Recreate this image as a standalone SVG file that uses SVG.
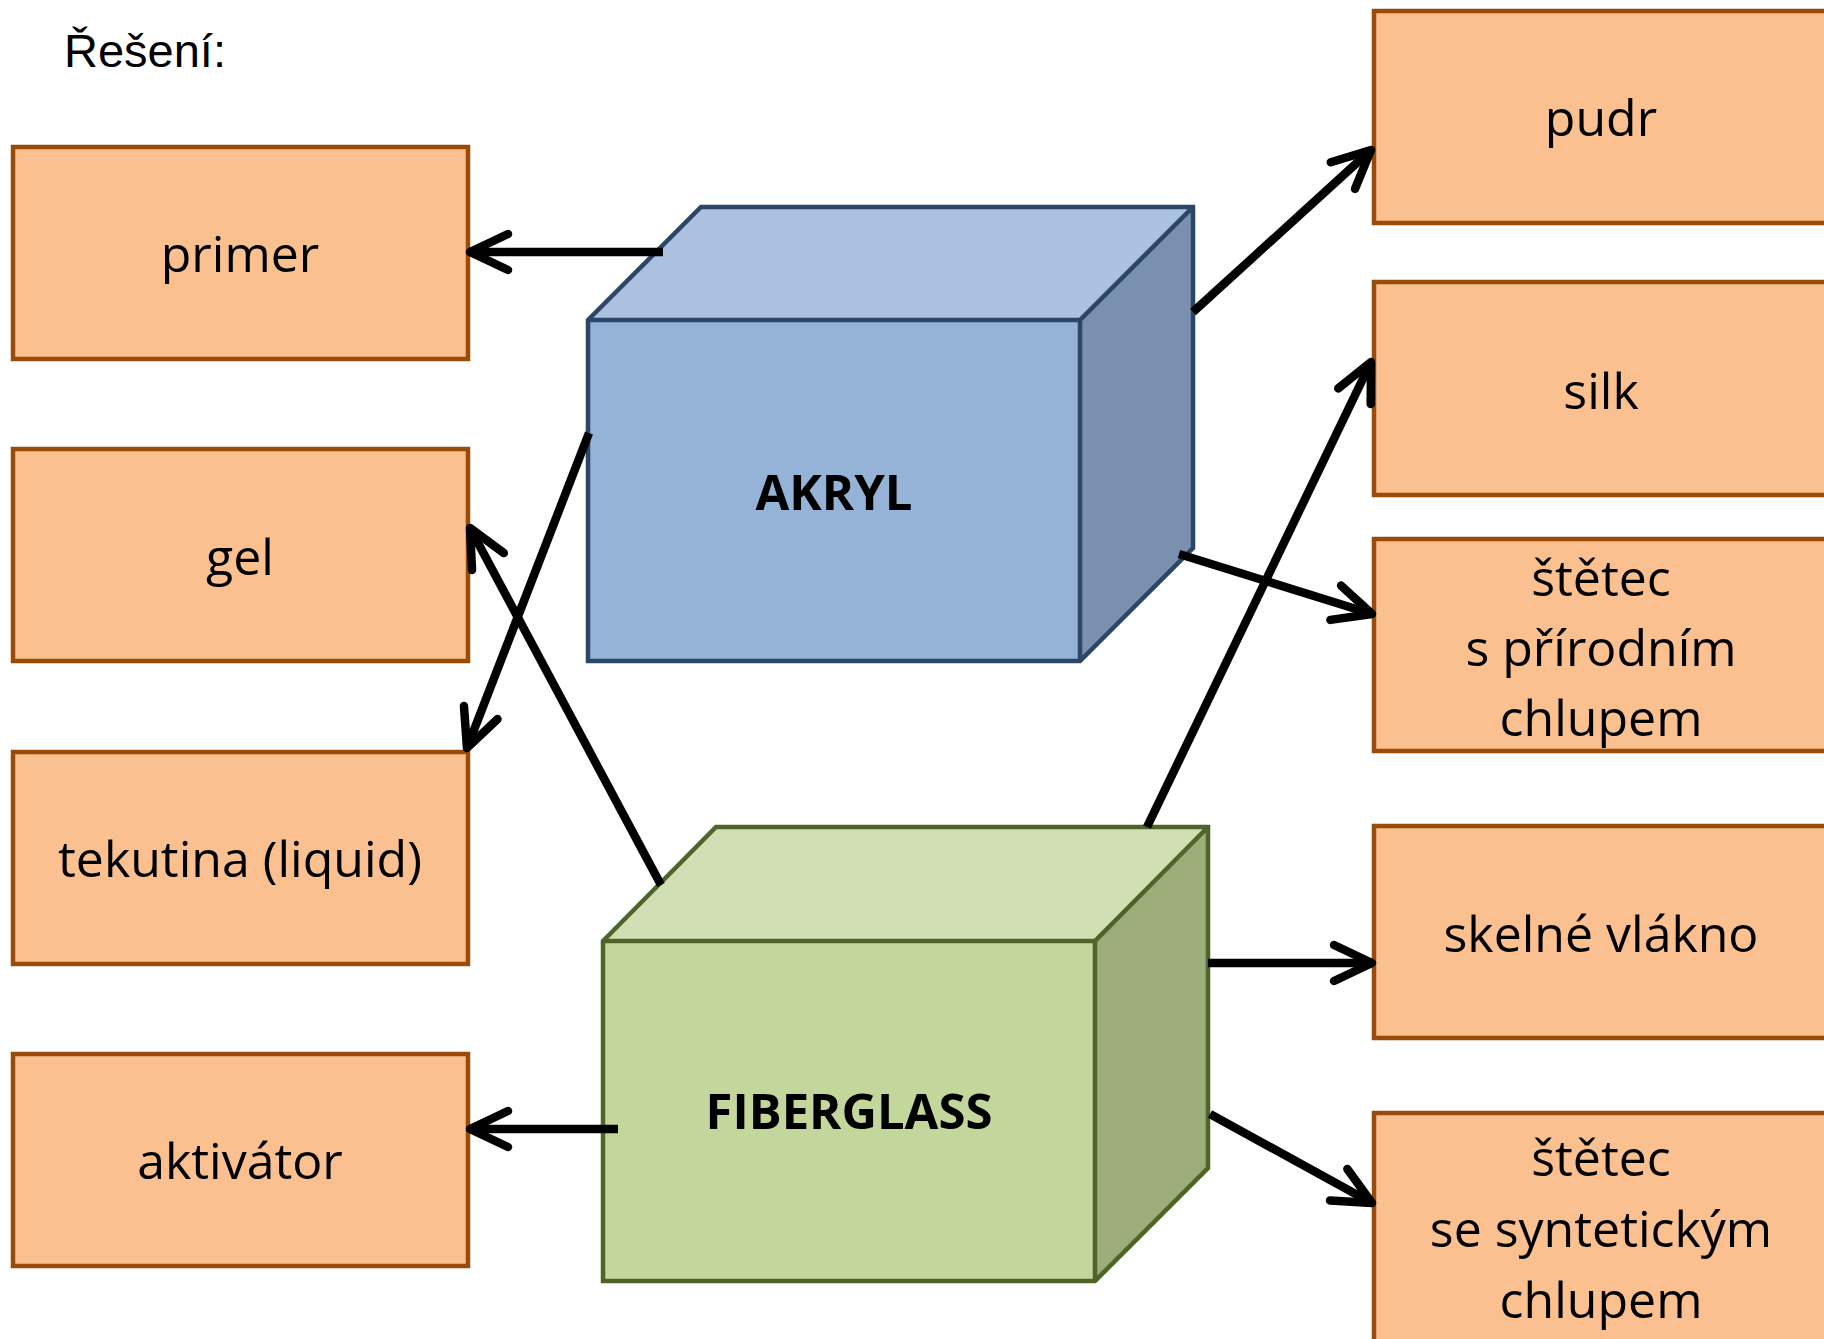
<svg xmlns="http://www.w3.org/2000/svg" width="1824" height="1339" viewBox="0 0 1824 1339">
<style>
.box{fill:#FAC090;stroke:#9A4B08;stroke-width:4.5}
.t{font-family:"Open Sans","Noto Sans",sans-serif;font-size:50px;fill:#000;text-anchor:middle}
.tb{font-family:"Open Sans","Noto Sans",sans-serif;font-size:49px;font-weight:bold;fill:#000;text-anchor:middle}
.b{fill:none;stroke:#2B4666;stroke-width:4.5;stroke-linejoin:miter}
.g{fill:none;stroke:#506329;stroke-width:4.5;stroke-linejoin:miter}
.c{fill:none;stroke:#000;stroke-width:8.5;marker-end:url(#ah)}
</style>
<defs>
<marker id="ah" markerUnits="userSpaceOnUse" markerWidth="100" markerHeight="100" refX="0" refY="0" orient="auto" overflow="visible">
<path d="M-38,-18 L0,0 L-38,18" fill="none" stroke="#000" stroke-width="8.5" stroke-linecap="round" stroke-linejoin="round"/>
</marker>
</defs>
<rect width="1824" height="1339" fill="#fff"/>
<text x="64" y="67" font-family="'Liberation Sans',Arial,sans-serif" font-size="47">Řešení:</text>

<g id="primer"><rect class="box" x="13" y="147" width="455" height="212"/><text class="t" x="240" y="272">primer</text></g>
<g id="gel"><rect class="box" x="13" y="449" width="455" height="212"/><text class="t" x="240" y="575">gel</text></g>
<g id="tekutina"><rect class="box" x="13" y="752" width="455" height="212"/><text class="t" x="240" y="877">tekutina (liquid)</text></g>
<g id="aktivator"><rect class="box" x="13" y="1054" width="455" height="212"/><text class="t" x="240" y="1179">aktivátor</text></g>

<g id="pudr"><rect class="box" x="1374" y="11" width="460" height="212"/><text class="t" x="1601" y="136">pudr</text></g>
<g id="silk"><rect class="box" x="1374" y="282" width="460" height="213"/><text class="t" x="1601" y="409">silk</text></g>
<g id="stetec-prirodni"><rect class="box" x="1374" y="539" width="460" height="212"/><text class="t" x="1601" y="596">štětec</text><text class="t" x="1601" y="666">s přírodním</text><text class="t" x="1601" y="736">chlupem</text></g>
<g id="skelne"><rect class="box" x="1374" y="826" width="460" height="212"/><text class="t" x="1601" y="952">skelné vlákno</text></g>
<g id="stetec-synteticky"><rect class="box" x="1374" y="1113" width="460" height="240"/><text class="t" x="1601" y="1176">štětec</text><text class="t" x="1601" y="1247">se syntetickým</text><text class="t" x="1601" y="1318">chlupem</text></g>

<g id="akryl">
<polygon fill="#ABC1DF" points="588,320 701,207 1193,207 1080,320"/>
<polygon fill="#7B90AE" points="1080,320 1193,207 1193,548 1080,661"/>
<rect fill="#95B3D7" x="588" y="320" width="492" height="341"/>
<path class="b" d="M588,320 L701,207 L1193,207 L1193,548 L1080,661 L588,661 Z M588,320 L1080,320 L1193,207 M1080,320 L1080,661"/>
<text class="tb" x="834" y="510">AKRYL</text>
</g>
<g id="fiberglass">
<polygon fill="#D1E0B2" points="603,941 716,827 1208,827 1095,941"/>
<polygon fill="#9CAC7B" points="1095,941 1208,827 1208,1168 1095,1281"/>
<rect fill="#C3D69B" x="603" y="941" width="492" height="340"/>
<path class="g" d="M603,941 L716,827 L1208,827 L1208,1168 L1095,1281 L603,1281 Z M603,941 L1095,941 L1208,827 M1095,941 L1095,1281"/>
<text class="tb" x="849" y="1129">FIBERGLASS</text>
</g>

<g id="connectors">
<path class="c" d="M663,252 L470,252"/>
<path class="c" d="M661,885 L470,528"/>
<path class="c" d="M589,433 L467,748"/>
<path class="c" d="M1193,312 L1371,150"/>
<path class="c" d="M1147,827 L1371,362"/>
<path class="c" d="M1179,554 L1372,614"/>
<path class="c" d="M1208,963 L1372,963"/>
<path class="c" d="M1210,1114 L1372,1203"/>
<path class="c" d="M618,1129 L470,1129"/>
</g>
</svg>
